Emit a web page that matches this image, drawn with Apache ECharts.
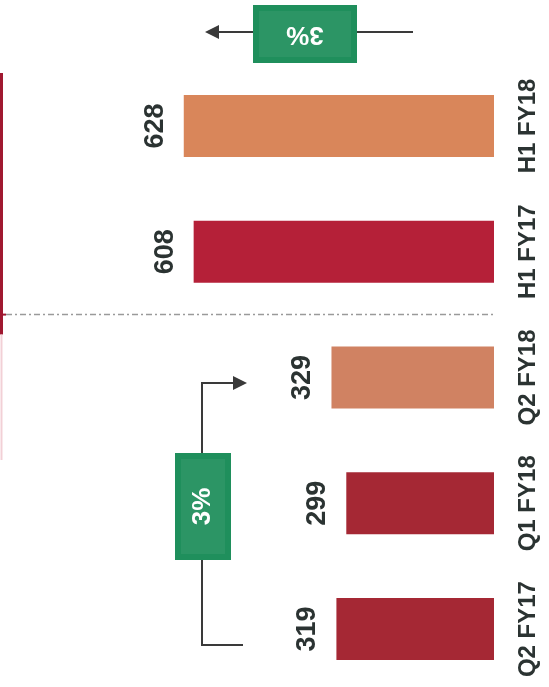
<!DOCTYPE html>
<html>
<head>
<meta charset="utf-8">
<script src="https://cdn.jsdelivr.net/npm/echarts@6/dist/echarts.min.js"></script>
<style>
html,body{margin:0;padding:0;background:#fff;}
#c{width:549px;height:687px;}
</style>
</head>
<body>
<div id="c"></div>
<script>
// Data (bottom to top in the rotated picture)
const categories = ['Q2 FY17', 'Q1 FY18', 'Q2 FY18', 'H1 FY17', 'H1 FY18'];
const values = [319, 299, 329, 608, 628];
const barColors = ['#A52834', '#A52834', '#D08262', '#B52038', '#D9865A'];
const changeLabels = ['3%', '3%'];

const FONT = '"Liberation Sans", Arial, sans-serif';
const TEXT = '#2b3332';

const chart = echarts.init(document.getElementById('c'));
chart.setOption({
  animation: false,
  backgroundColor: '#ffffff',
  grid: { left: 0, right: 55, top: 63, height: 629, outerBoundsMode: 'none', containLabel: false },
  xAxis: { type: 'value', inverse: true, min: 0, max: 1000, show: false },
  yAxis: {
    type: 'category', position: 'right', data: categories,
    axisLine: { show: false }, axisTick: { show: false }, splitLine: { show: false },
    axisLabel: {
      interval: 0, hideOverlap: false,
      rotate: 90, margin: 22, align: 'center', verticalAlign: 'top',
      fontFamily: FONT, fontWeight: 'bold', fontSize: 24, color: TEXT
    }
  },
  series: [{
    type: 'bar', barWidth: 62,
    data: values.map((v, i) => ({ value: v, itemStyle: { color: barColors[i] } })),
    label: {
      show: true, position: 'left', distance: 15, rotate: 90,
      align: 'center', verticalAlign: 'bottom',
      fontFamily: FONT, fontWeight: 'bold', fontSize: 27, color: TEXT
    }
  }]
});

// annotation decorations positioned from the axes
const yOf = c => chart.convertToPixel({ yAxisIndex: 0 }, c);
const sepY = (yOf('Q2 FY18') + yOf('H1 FY17')) / 2;
const lineCol = '#3a3a3a';
const green = '#1f8f5c';

function box(x, y, w, h, txt, rot) {
  return [
    { type: 'rect', shape: { x: x, y: y, width: w, height: h }, style: { fill: green } },
    { type: 'rect', shape: { x: x + 6, y: y + 6, width: w - 12, height: h - 12 }, style: { fill: 'rgba(255,255,255,0.06)' } },
    { type: 'text', x: x + w / 2, y: y + h / 2, rotation: rot,
      style: { text: txt, fill: '#ffffff', font: 'bold 26px ' + FONT, align: 'center', verticalAlign: 'middle' } }
  ];
}

const elements = [
  // left red bracket
  { type: 'line', shape: { x1: 1.5, y1: 73, x2: 1.5, y2: sepY + 20 }, style: { stroke: '#a01830', lineWidth: 3 } },
  { type: 'line', shape: { x1: 1.5, y1: sepY + 20, x2: 1.5, y2: 460 }, style: { stroke: '#f2d0d6', lineWidth: 2 } },
  { type: 'line', shape: { x1: 0, y1: sepY, x2: 6, y2: sepY }, style: { stroke: '#a01830', lineWidth: 2 } },
  // dashed separator
  { type: 'line', shape: { x1: 6, y1: sepY, x2: 495, y2: sepY }, style: { stroke: '#9a9a9a', lineWidth: 1.5, lineDash: [6, 3, 2, 3] } },
  // top arrow (H1 comparison)
  { type: 'line', shape: { x1: 357, y1: 32, x2: 413, y2: 32 }, style: { stroke: lineCol, lineWidth: 2 } },
  { type: 'line', shape: { x1: 253, y1: 32, x2: 215, y2: 32 }, style: { stroke: lineCol, lineWidth: 2 } },
  { type: 'polygon', shape: { points: [[205, 32], [219, 25], [219, 39]] }, style: { fill: lineCol } },
  ...box(253, 5, 104, 58, changeLabels[1], Math.PI),
  // bottom bracket (Q2 comparison)
  { type: 'polyline', shape: { points: [[243, 645], [202, 645], [202, 560]] }, style: { stroke: lineCol, lineWidth: 2, fill: null } },
  { type: 'polyline', shape: { points: [[202, 453], [202, 383], [235, 383]] }, style: { stroke: lineCol, lineWidth: 2, fill: null } },
  { type: 'polygon', shape: { points: [[247, 383], [233, 376], [233, 390]] }, style: { fill: lineCol } },
  ...box(175, 453, 56, 107, changeLabels[0], Math.PI / 2)
];
chart.setOption({ graphic: { elements: elements } });
</script>
</body>
</html>
